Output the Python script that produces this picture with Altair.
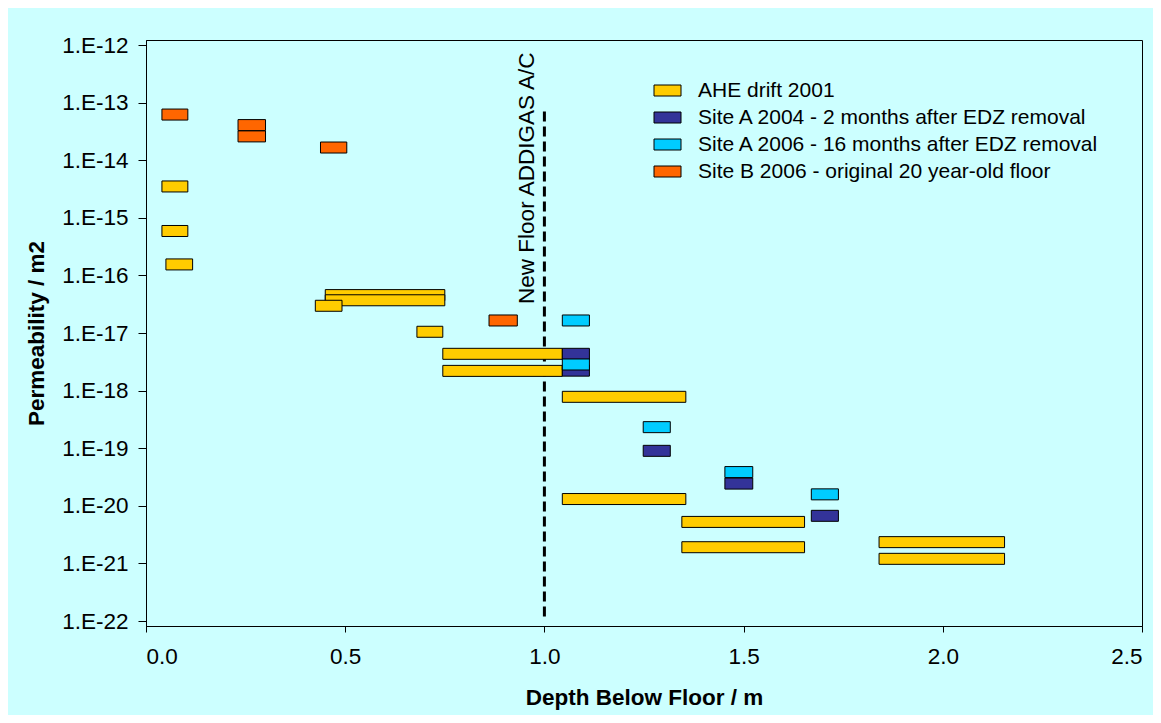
import altair as alt
import pandas as pd

series_names = [
    "AHE drift 2001",
    "Site A 2004 - 2 months after EDZ removal",
    "Site A 2006 - 16 months after EDZ removal",
    "Site B 2006 - original 20 year-old floor",
]
series_colors = ["#FFCC00", "#333399", "#00CCFF", "#FF6600"]

# AHE drift 2001
ahe_from = [0.04, 0.04, 0.05, 0.45, 0.45, 0.425, 0.68, 0.745, 0.745, 1.045, 1.045, 1.345, 1.345, 1.84, 1.84]
ahe_to = [0.105, 0.105, 0.117, 0.75, 0.75, 0.492, 0.745, 1.045, 1.045, 1.355, 1.355, 1.653, 1.653, 2.155, 2.155]
ahe_k = [3.5e-15, 5.9e-16, 1.55e-16, 4.55e-17, 3.7e-17, 2.97e-17, 1.05e-17, 4.35e-18, 2.2e-18,
         7.8e-19, 1.31e-20, 5.25e-21, 1.91e-21, 2.34e-21, 1.2e-21]

# Site A 2004
sa04_from = [1.045, 1.045, 1.248, 1.453, 1.67]
sa04_to = [1.113, 1.113, 1.316, 1.523, 1.738]
sa04_k = [4.35e-18, 2.22e-18, 9.0e-20, 2.43e-20, 6.7e-21]

# Site A 2006
sa06_from = [1.045, 1.045, 1.248, 1.453, 1.67]
sa06_to = [1.113, 1.113, 1.316, 1.523, 1.738]
sa06_k = [1.65e-17, 2.84e-18, 2.32e-19, 3.85e-20, 1.58e-20]

# Site B 2006
sb06_from = [0.04, 0.231, 0.231, 0.438, 0.861]
sb06_to = [0.105, 0.3, 0.3, 0.504, 0.932]
sb06_k = [6.2e-14, 4.07e-14, 2.59e-14, 1.66e-14, 1.65e-17]

y_ticks = [1e-12, 1e-13, 1e-14, 1e-15, 1e-16, 1e-17, 1e-18, 1e-19, 1e-20, 1e-21, 1e-22]
x_ticks = [0.0, 0.5, 1.0, 1.5, 2.0, 2.5]

floor_x = [1.0]
floor_top = [7e-14]
floor_bottom = [1e-22]
floor_label = ["New Floor ADDIGAS A/C"]
floor_label_y = [3.2e-17]

rows = []
for name, xs, xe, ks in [
    (series_names[0], ahe_from, ahe_to, ahe_k),
    (series_names[1], sa04_from, sa04_to, sa04_k),
    (series_names[2], sa06_from, sa06_to, sa06_k),
    (series_names[3], sb06_from, sb06_to, sb06_k),
]:
    for a, b, k in zip(xs, xe, ks):
        rows.append({"series": name, "x1": a, "x2": b, "k": k})
df = pd.DataFrame(rows)
df["order"] = range(len(df))

rule_df = pd.DataFrame({"x": floor_x, "y": floor_top, "y2": floor_bottom})
text_df = pd.DataFrame({"x": floor_x, "y": floor_label_y, "label": floor_label})

FONT = "Liberation Sans"
AXFS = 22.5

x_scale = alt.Scale(domain=[0, 2.5], nice=False)
y_scale = alt.Scale(type="log", domain=[1e-22, 1e-12], nice=False)

rule = alt.Chart(rule_df).mark_rule(color="black", strokeWidth=3, strokeDash=[10, 5]).encode(
    x=alt.X("x:Q", scale=x_scale),
    y=alt.Y("y:Q", scale=y_scale),
    y2="y2:Q",
)

bars = alt.Chart(df).mark_bar(orient="horizontal", size=11, stroke="black", strokeWidth=1).encode(
    x=alt.X(
        "x1:Q",
        scale=x_scale,
        axis=alt.Axis(values=x_ticks, format=".1f", title="Depth Below Floor / m",
                      tickSize=6, labelPadding=13, titlePadding=19),
    ),
    x2="x2:Q",
    y=alt.Y(
        "k:Q",
        scale=y_scale,
        axis=alt.Axis(values=y_ticks, labelExpr="'1.E' + round(log(datum.value) / LN10)",
                      title="Permeability / m2", tickSize=8, labelPadding=10, titlePadding=13),
    ),
    color=alt.Color(
        "series:N",
        scale=alt.Scale(domain=series_names, range=series_colors),
        legend=alt.Legend(
            title=None,
            orient="none",
            legendX=511,
            legendY=40,
            symbolType="M-2.7,-1.1H2.7V1.1H-2.7Z",
            symbolSize=100,
            symbolStrokeColor="black",
            symbolStrokeWidth=1,
            symbolOpacity=1,
            labelFontSize=21,
            labelFont=FONT,
            labelColor="black",
            labelOffset=20,
            rowPadding=5,
            padding=0,
            labelLimit=600,
        ),
    ),
    order=alt.Order("order:Q"),
)

text = alt.Chart(text_df).mark_text(
    angle=270, align="left", baseline="alphabetic", dy=-10, fontSize=AXFS, font=FONT, color="black"
).encode(
    x=alt.X("x:Q", scale=x_scale),
    y=alt.Y("y:Q", scale=y_scale),
    text="label:N",
)

chart = alt.layer(rule, bars, text).properties(
    width=996,
    height=586,
    autosize=alt.AutoSizeParams(type="none"),
    padding={"left": 138, "top": 32, "right": 11, "bottom": 89},
    background="#CCFFFF",
).configure_view(
    fill="#CCFFFF", stroke="black", strokeWidth=1
).configure_axis(
    labelFont=FONT, titleFont=FONT, labelFontSize=AXFS, titleFontSize=AXFS, titleFontWeight="bold",
    labelColor="black", titleColor="black", domainColor="black", tickColor="black",
    grid=False, domainWidth=1, tickWidth=1,
)

chart.save("out.html", embed_options={"renderer": "svg", "actions": False})
